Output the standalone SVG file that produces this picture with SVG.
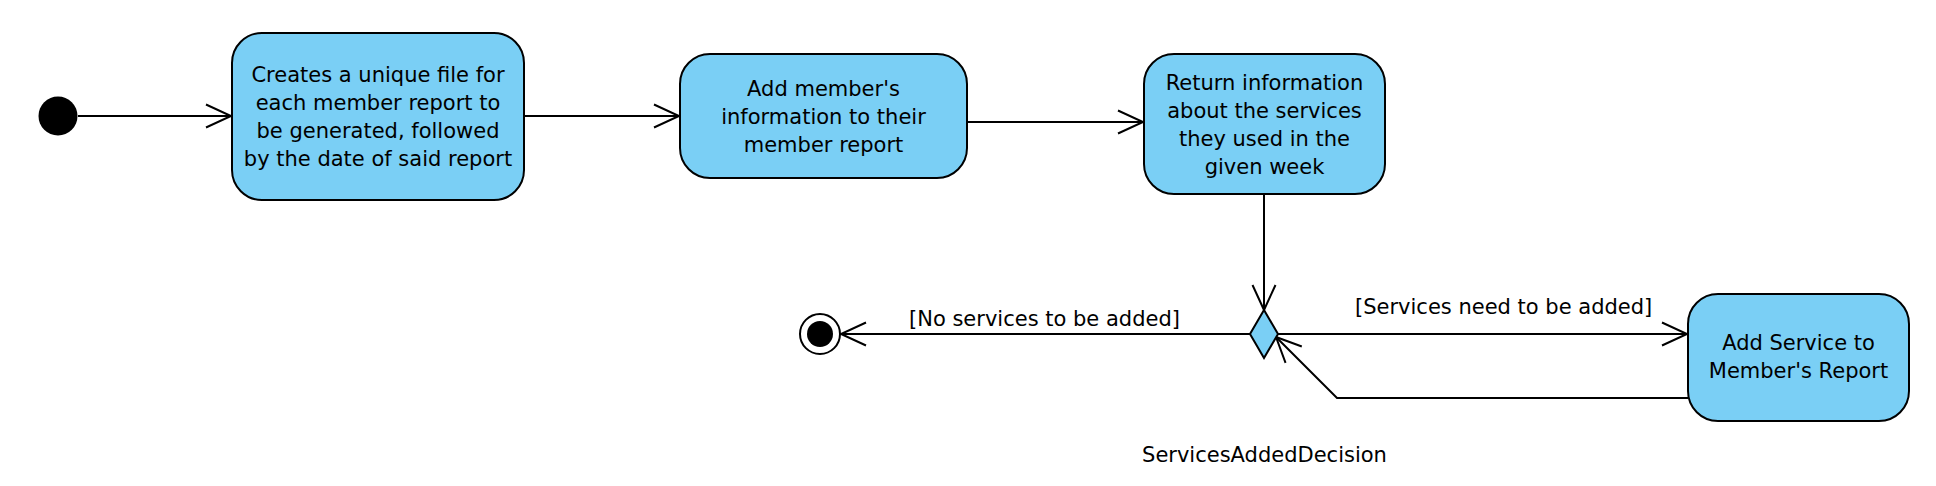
<svg xmlns="http://www.w3.org/2000/svg" width="1936" height="486" viewBox="0 0 1936 486">
<defs>
<style>
.node{fill:#7acff5;stroke:#000;stroke-width:2}
.t{font-family:"DejaVu Sans",sans-serif;font-size:21px;fill:#000;text-anchor:middle}
.lbl{font-family:"DejaVu Sans",sans-serif;font-size:21px;fill:#000}
.edge{fill:none;stroke:#000;stroke-width:2}
</style>
<marker id="open" markerUnits="userSpaceOnUse" markerWidth="30" markerHeight="30" viewBox="-27 -14 30 28" refX="0" refY="0" orient="auto">
<path d="M -25 -11.5 L 0 0 L -25 11.5" fill="none" stroke="#000" stroke-width="2"/>
</marker>
</defs>
<rect width="1936" height="486" fill="#fff"/>
<g id="connectors">
<path class="edge" d="M 78 116 H 231" marker-end="url(#open)"/>
<path class="edge" d="M 524 116 H 679" marker-end="url(#open)"/>
<path class="edge" d="M 967 122 H 1143" marker-end="url(#open)"/>
<path class="edge" d="M 1264 194 V 310" marker-end="url(#open)"/>
<path class="edge" d="M 1250 334 H 841" marker-end="url(#open)"/>
<path class="edge" d="M 1278 334 H 1687" marker-end="url(#open)"/>
<path class="edge" d="M 1688 398 H 1337 L 1276 337" marker-end="url(#open)"/>
<text class="lbl" x="909" y="326">[No services to be added]</text>
<text class="lbl" x="1355" y="314">[Services need to be added]</text>
</g>
<g id="initial">
<circle cx="58" cy="116" r="19.5" fill="#000"/>
</g>
<g id="createFile">
<rect class="node" x="232" y="33" width="292" height="167" rx="30" ry="30"/>
<text class="t" x="378" y="82">Creates a unique file for</text>
<text class="t" x="378" y="110">each member report to</text>
<text class="t" x="378" y="138">be generated, followed</text>
<text class="t" x="378" y="166">by the date of said report</text>
</g>
<g id="addInfo">
<rect class="node" x="680" y="54" width="287" height="124" rx="30" ry="30"/>
<text class="t" x="823.5" y="96">Add member's</text>
<text class="t" x="823.5" y="124">information to their</text>
<text class="t" x="823.5" y="152">member report</text>
</g>
<g id="returnInfo">
<rect class="node" x="1144" y="54" width="241" height="140" rx="30" ry="30"/>
<text class="t" x="1264.5" y="90">Return information</text>
<text class="t" x="1264.5" y="118">about the services</text>
<text class="t" x="1264.5" y="146">they used in the</text>
<text class="t" x="1264.5" y="174">given week</text>
</g>
<g id="ServicesAddedDecision">
<polygon class="node" points="1264,310 1278,334 1264,358 1250,334"/>
<text class="t" x="1264.5" y="462">ServicesAddedDecision</text>
</g>
<g id="addService">
<rect class="node" x="1688" y="294" width="221" height="127" rx="30" ry="30"/>
<text class="t" x="1798.5" y="350">Add Service to</text>
<text class="t" x="1798.5" y="378">Member's Report</text>
</g>
<g id="final">
<circle cx="820" cy="334" r="20" fill="#fff" stroke="#000" stroke-width="2"/>
<circle cx="820" cy="334" r="13" fill="#000"/>
</g>
</svg>
